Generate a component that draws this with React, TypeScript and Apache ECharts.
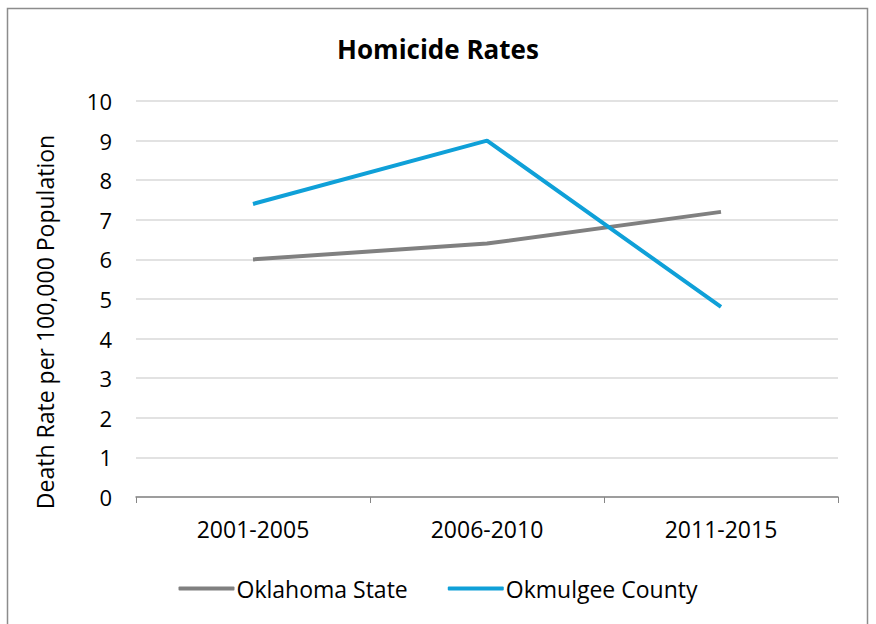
import React, { useEffect, useRef } from "react";
import * as echarts from "echarts";

const categories = ["2001-2005", "2006-2010", "2011-2015"];
const oklahomaState = [6.0, 6.4, 7.2];
const okmulgeeCounty = [7.4, 9.0, 4.8];
const seriesNames = ["Oklahoma State", "Okmulgee County"];
const yAxisTitle = "Death Rate per 100,000 Population";

const FONT = "'Open Sans', sans-serif";

export default function App() {
  const ref = useRef<HTMLDivElement>(null);
  useEffect(() => {
    if (!ref.current) return;
    const chart = echarts.init(ref.current, null, { renderer: "svg" });
    chart.setOption({
      animation: false,
      backgroundColor: "#ffffff",
      textStyle: { fontFamily: FONT },
      title: {
        text: "Homicide Rates",
        left: "center",
        top: 31,
        textStyle: { fontFamily: FONT, fontSize: 26, fontWeight: "bold", color: "#000" },
      },
      graphic: [
        {
          type: "rect",
          shape: { x: 7.5, y: 8.5, width: 860, height: 630 },
          style: { fill: "none", stroke: "#8c8c8c", lineWidth: 1.5 },
          silent: true,
        },
        {
          type: "text",
          x: 45,
          y: 322,
          rotation: Math.PI / 2,
          style: {
            text: yAxisTitle,
            fontFamily: FONT,
            fontSize: 23,
            fill: "#000",
            align: "center",
            verticalAlign: "middle",
          },
          silent: true,
        },
      ],
      legend: {
        top: 572,
        left: "center",
        itemWidth: 56,
        itemHeight: 4,
        itemGap: 40,
        icon: "roundRect",
        textStyle: { fontFamily: FONT, fontSize: 23, color: "#000", padding: [0, 0, 0, -3] },
        data: seriesNames,
      },
      grid: { left: 136, right: 38, top: 101, bottom: 127 },
      xAxis: {
        type: "category",
        data: categories,
        boundaryGap: true,
        axisLine: { lineStyle: { color: "#868686", width: 1.5 } },
        axisTick: { show: true, length: 6, inside: false, lineStyle: { color: "#868686" } },
        axisLabel: { fontFamily: FONT, fontSize: 23, color: "#000", margin: 20 },
      },
      yAxis: {
        type: "value",
        min: 0,
        max: 10,
        interval: 1,
        axisLine: { show: false },
        axisTick: { show: false },
        axisLabel: { fontFamily: FONT, fontSize: 22, color: "#000", margin: 24 },
        splitLine: { lineStyle: { color: "#d9d9d9", width: 1.5 } },
      },
      series: [
        {
          name: seriesNames[0],
          type: "line",
          data: oklahomaState,
          symbol: "none",
          color: "#808080",
          lineStyle: { width: 4, color: "#808080" },
        },
        {
          name: seriesNames[1],
          type: "line",
          data: okmulgeeCounty,
          symbol: "none",
          color: "#0fa0d8",
          lineStyle: { width: 4, color: "#0fa0d8" },
        },
      ],
    });
    return () => chart.dispose();
  }, []);
  return (
    <div
      ref={ref}
      style={{ position: "absolute", left: 0, top: 0, width: 876, height: 624 }}
    />
  );
}
